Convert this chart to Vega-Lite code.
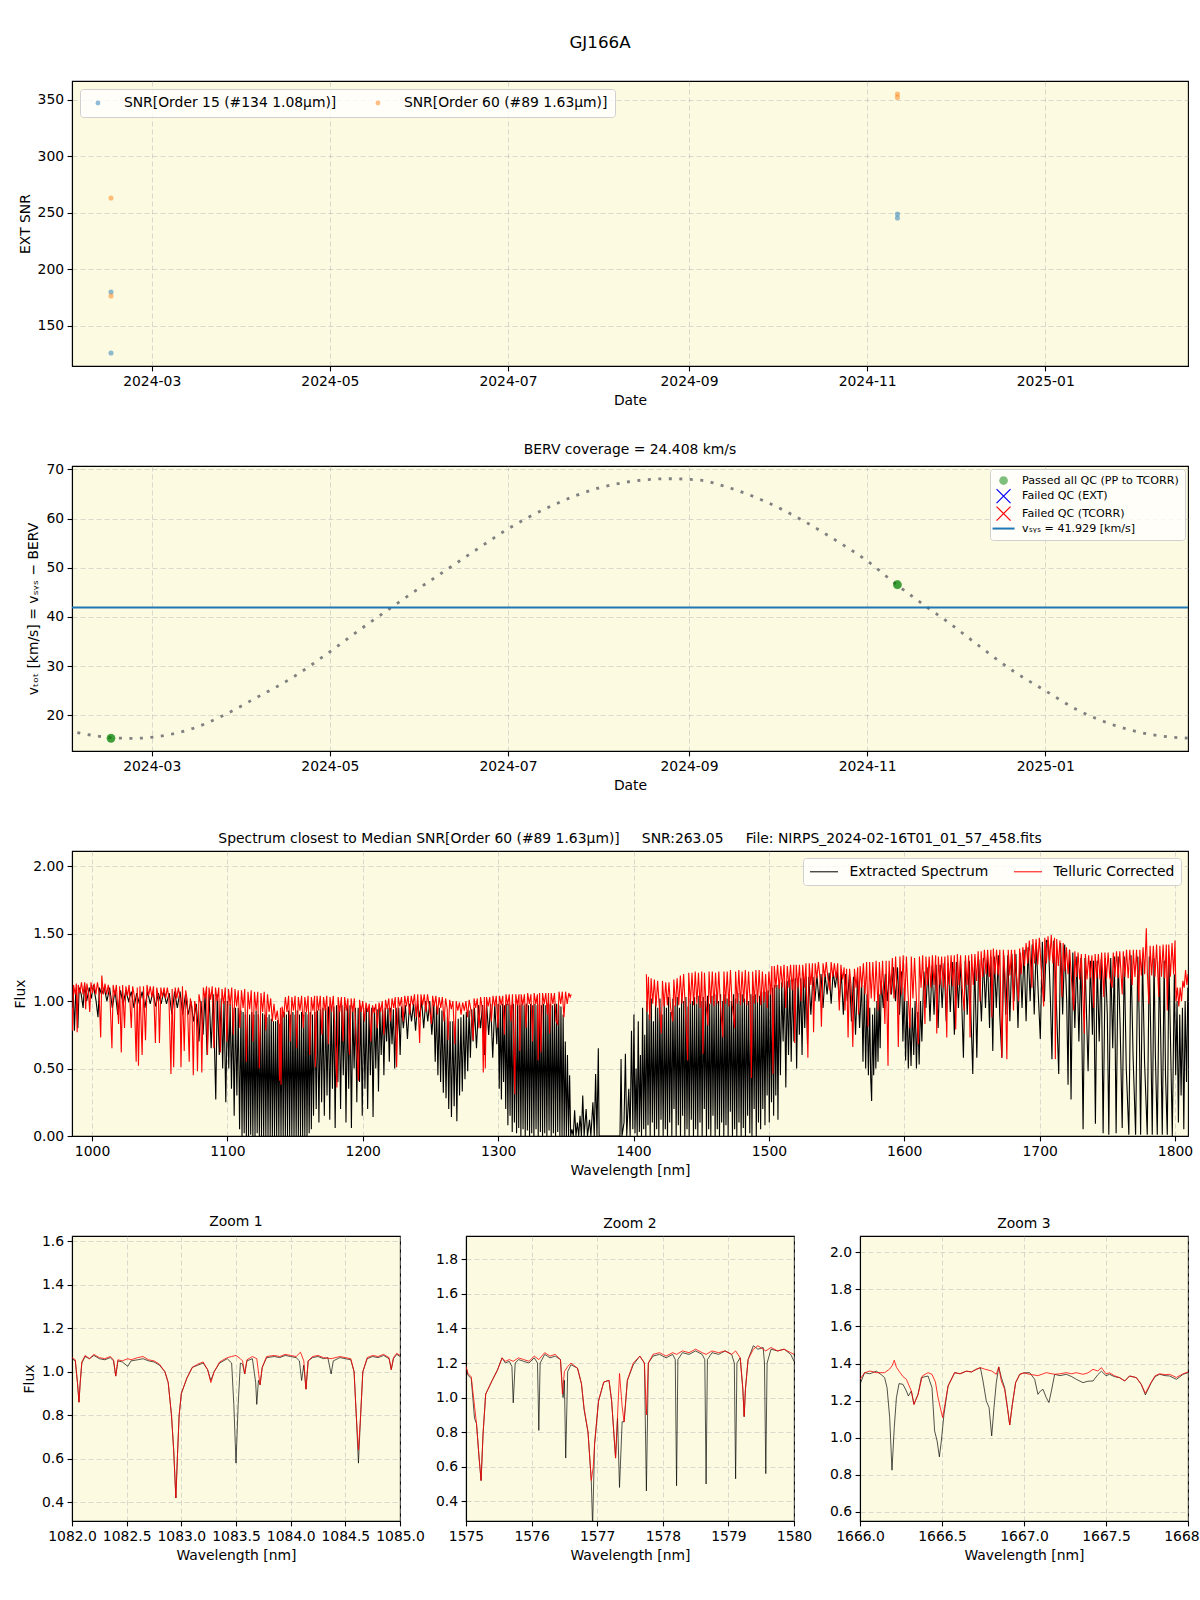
{
"$schema":"https://vega.github.io/schema/vega-lite/v6.json",
"background":"white",
"padding":{"left":13,"top":34,"right":0,"bottom":0},
"title":{"text":"GJ166A","fontSize":16.7,"fontWeight":"normal","anchor":"middle","offset":29,"dx":-13},
"bounds":"flush",
"spacing":100,
"resolve":{"scale":{"color":"independent"},"legend":{"color":"independent"}},
"config":{
"font":"DejaVu Sans",
"view":{"fill":"#fcfbe2","stroke":"#000000","strokeWidth":1.1},
"axis":{"labelFont":"DejaVu Sans","titleFont":"DejaVu Sans","labelFontSize":13.9,"titleFontSize":13.9,"titleFontWeight":"normal","labelColor":"#000","titleColor":"#000","domainColor":"#000","domainWidth":1.1,"tickColor":"#000","tickSize":4.9,"tickWidth":1.1,"labelPadding":3.5,"titlePadding":5,"grid":true,"gridColor":"#b0b0b0","gridOpacity":0.6,"gridDash":[5,3],"gridWidth":0.8,"labelFlush":false,"labelOverlap":false,"labelBound":false},
"title":{"font":"DejaVu Sans","fontSize":13.9,"fontWeight":"normal","color":"#000","offset":5.5,"anchor":"middle"},
"legend":{"labelFont":"DejaVu Sans","labelColor":"#000","labelLimit":400}
},
"datasets":{
"snr":[
{"d":"2024-02-16T01:30:00Z","o":"SNR[Order 15 (#134 1.08μm)]","v":126.1},
{"d":"2024-02-16T01:30:00Z","o":"SNR[Order 15 (#134 1.08μm)]","v":180.1},
{"d":"2024-02-16T01:30:00Z","o":"SNR[Order 60 (#89 1.63μm)]","v":263.3},
{"d":"2024-02-16T01:30:00Z","o":"SNR[Order 60 (#89 1.63μm)]","v":176.5},
{"d":"2024-11-11T09:00:00Z","o":"SNR[Order 15 (#134 1.08μm)]","v":249.1},
{"d":"2024-11-11T09:00:00Z","o":"SNR[Order 15 (#134 1.08μm)]","v":245.6},
{"d":"2024-11-11T09:00:00Z","o":"SNR[Order 60 (#89 1.63μm)]","v":355.3},
{"d":"2024-11-11T09:00:00Z","o":"SNR[Order 60 (#89 1.63μm)]","v":352.3}
],
"qc":[
{"d":"2024-02-16T01:30:00Z","v":15.3,"q":"a"},
{"d":"2024-02-16T01:30:00Z","v":15.35,"q":"a"},
{"d":"2024-11-11T09:00:00Z","v":46.5,"q":"a"},
{"d":"2024-11-11T09:00:00Z","v":46.6,"q":"a"}
],
"berv":[
{"d":"2024-02-01","v":16.9},{"d":"2024-02-10","v":15.9},{"d":"2024-02-17","v":15.4},{"d":"2024-02-24","v":15.3},{"d":"2024-03-02","v":15.6},{"d":"2024-03-14","v":17.1},{"d":"2024-03-25","v":19.8},{"d":"2024-04-05","v":23.3},{"d":"2024-04-18","v":27.6},{"d":"2024-05-01","v":32.9},{"d":"2024-05-12","v":37.7},{"d":"2024-05-22","v":41.9},{"d":"2024-06-01","v":46.0},{"d":"2024-06-11","v":50.0},{"d":"2024-06-21","v":54.0},{"d":"2024-07-01","v":57.9},{"d":"2024-07-16","v":62.6},{"d":"2024-08-01","v":66.2},{"d":"2024-08-14","v":67.7},{"d":"2024-08-25","v":68.1},{"d":"2024-09-05","v":67.8},{"d":"2024-09-14","v":66.4},{"d":"2024-09-27","v":63.5},{"d":"2024-10-10","v":59.6},{"d":"2024-10-22","v":55.3},{"d":"2024-11-01","v":51.4},{"d":"2024-11-11","v":46.6},{"d":"2024-11-21","v":42.2},{"d":"2024-11-29","v":38.8},{"d":"2024-12-10","v":33.8},{"d":"2024-12-21","v":29.0},{"d":"2025-01-01","v":25.0},{"d":"2025-01-12","v":21.1},{"d":"2025-01-25","v":17.9},{"d":"2025-02-07","v":16.0},{"d":"2025-02-20","v":15.3}
],
"ext":[
{"w":985.3,"f":0.95},{"w":986,"f":1.1},{"w":987,"f":0.78},{"w":988,"f":1.08},{"w":989.5,"f":0.8},{"w":990.5,"f":1.1},{"w":992,"f":1.05},{"w":993.4,"f":0.95},{"w":994.5,"f":1.12},{"w":996,"f":1.0},{"w":998,"f":1.1},{"w":999.5,"f":1.02},{"w":1001,"f":1.12},{"w":1003,"f":1.0},{"w":1004.4,"f":0.88},{"w":1005.5,"f":1.1},{"w":1007,"f":1.05},{"w":1009,"f":1.1},{"w":1011,"f":1.0},{"w":1013,"f":1.1},{"w":1015,"f":0.95},{"w":1017,"f":1.08},{"w":1019,"f":0.9},{"w":1021,"f":1.08},{"w":1023,"f":0.98},{"w":1025,"f":1.08},{"w":1027,"f":1.0},{"w":1029,"f":1.07},{"w":1031,"f":0.95},{"w":1033,"f":1.06},{"w":1035,"f":0.98},{"w":1037,"f":1.07},{"w":1039,"f":0.95},{"w":1041,"f":1.07},{"w":1043,"f":0.98},{"w":1045,"f":1.07},{"w":1047,"f":0.96},{"w":1049,"f":1.06},{"w":1051,"f":0.98},{"w":1053,"f":1.07},{"w":1055,"f":0.98},{"w":1057,"f":1.06},{"w":1059,"f":0.9},{"w":1061,"f":1.07},{"w":1063,"f":0.95},{"w":1065,"f":1.07},{"w":1067,"f":0.9},{"w":1069,"f":1.05},{"w":1071,"f":0.9},{"w":1073,"f":1.0},{"w":1075,"f":0.85},{"w":1077,"f":0.98},{"w":1079,"f":0.7},{"w":1080.5,"f":1.0},{"w":1082,"f":0.75},{"w":1083.5,"f":1.05},{"w":1085,"f":0.6},{"w":1086.5,"f":1.05},{"w":1088,"f":0.65},{"w":1089.5,"f":1.05},{"w":1091.4,"f":0.27},{"w":1092.5,"f":1.05},{"w":1094,"f":0.6},{"w":1095.5,"f":1.02},{"w":1096.5,"f":0.5},{"w":1097.5,"f":1.0},{"w":1098.8,"f":0.25},{"w":1100,"f":1.0},{"w":1101,"f":0.5},{"w":1102,"f":0.98},{"w":1103,"f":0.35},{"w":1104,"f":0.95},{"w":1105,"f":0.15},{"w":1106,"f":0.95},{"w":1107,"f":0.3},{"w":1108,"f":0.95},{"w":1109,"f":0.05},
{"w":1110,"f":0.93},{"w":1110.8,"f":0.0},{"w":1111.6,"f":0.92},{"w":1112.4,"f":0.02},{"w":1113.2,"f":0.9},{"w":1114,"f":0.0},{"w":1114.8,"f":0.94},{"w":1115.6,"f":0.0},{"w":1116.4,"f":0.9},{"w":1117.2,"f":0.01},{"w":1118,"f":0.92},{"w":1118.8,"f":0.0},{"w":1119.6,"f":0.9},{"w":1120.4,"f":0.0},{"w":1121.2,"f":0.93},{"w":1122,"f":0.02},{"w":1122.8,"f":0.9},{"w":1123.6,"f":0.0},{"w":1124.4,"f":0.88},{"w":1125.2,"f":0.0},{"w":1126,"f":0.91},{"w":1126.8,"f":0.0},{"w":1127.6,"f":0.9},{"w":1128.4,"f":0.0},{"w":1129.2,"f":0.88},{"w":1130,"f":0.0},{"w":1130.8,"f":0.9},{"w":1131.6,"f":0.0},{"w":1132.4,"f":0.87},{"w":1133.2,"f":0.0},{"w":1134,"f":0.85},{"w":1134.8,"f":0.0},{"w":1135.6,"f":0.85},{"w":1136.4,"f":0.0},{"w":1137.2,"f":0.86},{"w":1138,"f":0.0},{"w":1138.8,"f":0.83},{"w":1139.6,"f":0.0},{"w":1140.4,"f":0.9},{"w":1141.2,"f":0.0},{"w":1142,"f":0.92},{"w":1142.8,"f":0.0},{"w":1143.6,"f":0.9},{"w":1144.4,"f":0.0},{"w":1145.2,"f":0.93},{"w":1146,"f":0.0},{"w":1146.8,"f":0.9},{"w":1147.6,"f":0.0},{"w":1148.4,"f":0.92},{"w":1149.2,"f":0.0},{"w":1150,"f":0.9},{"w":1150.8,"f":0.0},{"w":1151.6,"f":0.93},{"w":1152.4,"f":0.0},{"w":1153.2,"f":0.9},{"w":1154,"f":0.0},{"w":1154.8,"f":0.92},{"w":1155.6,"f":0.0},{"w":1156.4,"f":0.9},{"w":1157.2,"f":0.0},{"w":1158,"f":0.92},{"w":1158.8,"f":0.0},{"w":1159.6,"f":0.9},{"w":1160.4,"f":0.02},{"w":1161.2,"f":0.92},{"w":1162,"f":0.05},{"w":1162.8,"f":0.9},
{"w":1163.6,"f":0.15},{"w":1164.6,"f":0.92},{"w":1165.6,"f":0.2},{"w":1166.6,"f":0.93},{"w":1167.6,"f":0.1},{"w":1168.6,"f":0.94},{"w":1169.6,"f":0.25},{"w":1170.6,"f":0.95},{"w":1171.6,"f":0.15},{"w":1172.6,"f":0.95},{"w":1173.6,"f":0.3},{"w":1174.6,"f":0.96},{"w":1175.6,"f":0.12},{"w":1176.6,"f":0.96},{"w":1177.6,"f":0.35},{"w":1178.6,"f":0.96},{"w":1179.6,"f":0.06},{"w":1180.6,"f":0.97},{"w":1181.6,"f":0.4},{"w":1182.6,"f":0.96},{"w":1183.6,"f":0.2},{"w":1184.6,"f":0.97},{"w":1185.6,"f":0.45},{"w":1186.6,"f":0.96},{"w":1187.6,"f":0.1},{"w":1188.6,"f":0.96},{"w":1189.6,"f":0.35},{"w":1190.6,"f":0.97},{"w":1191.6,"f":0.06},{"w":1192.6,"f":0.96},{"w":1193.6,"f":0.5},{"w":1194.6,"f":0.95},{"w":1195.6,"f":0.25},{"w":1196.6,"f":0.95},{"w":1197.6,"f":0.4},{"w":1198.6,"f":0.96},{"w":1199.6,"f":0.15},{"w":1200.6,"f":0.95},{"w":1201.6,"f":0.35},{"w":1202.6,"f":0.95},{"w":1203.6,"f":0.2},{"w":1204.6,"f":0.94},{"w":1205.6,"f":0.45},{"w":1206.6,"f":0.95},{"w":1207.6,"f":0.14},{"w":1208.6,"f":0.95},{"w":1209.6,"f":0.5},{"w":1210.6,"f":0.94},{"w":1211.6,"f":0.33},{"w":1212.6,"f":0.95},{"w":1213.6,"f":0.6},{"w":1214.6,"f":0.94},{"w":1215.6,"f":0.45},{"w":1216.6,"f":0.95},{"w":1217.6,"f":0.7},{"w":1218.6,"f":0.95},{"w":1219.6,"f":0.55},{"w":1220.6,"f":0.95},{"w":1221.6,"f":0.68},{"w":1222.6,"f":0.94},{"w":1223.6,"f":0.5},{"w":1224.6,"f":0.95},{"w":1225.6,"f":0.75},{"w":1226.6,"f":0.95},{"w":1227.6,"f":0.6},{"w":1228.6,"f":0.96},{"w":1230,"f":0.8},{"w":1231.5,"f":0.97},{"w":1233,"f":0.72},{"w":1234.5,"f":0.98},{"w":1236,"f":0.85},{"w":1237.5,"f":0.98},{"w":1239,"f":0.78},{"w":1240.5,"f":0.99},{"w":1242,"f":0.88},{"w":1243.5,"f":1.0},{"w":1245,"f":0.8},{"w":1246.5,"f":1.0},{"w":1248,"f":0.85},{"w":1249.5,"f":1.0},{"w":1251,"f":0.75},{"w":1252.5,"f":0.98},
{"w":1253.5,"f":0.55},{"w":1254.5,"f":0.97},{"w":1255.5,"f":0.45},{"w":1256.5,"f":0.95},{"w":1257.5,"f":0.4},{"w":1258.5,"f":0.93},{"w":1259.5,"f":0.32},{"w":1260.5,"f":0.9},{"w":1261.5,"f":0.28},{"w":1262.5,"f":0.88},{"w":1263.5,"f":0.2},{"w":1264.5,"f":0.85},{"w":1265.5,"f":0.14},{"w":1266.5,"f":0.85},{"w":1267.5,"f":0.22},{"w":1268.5,"f":0.85},{"w":1269.5,"f":0.11},{"w":1270.5,"f":0.87},{"w":1271.5,"f":0.3},{"w":1272.5,"f":0.88},{"w":1273.5,"f":0.33},{"w":1274.5,"f":0.9},{"w":1275.5,"f":0.42},{"w":1276.5,"f":0.92},{"w":1277.5,"f":0.48},{"w":1278.5,"f":0.93},{"w":1279.5,"f":0.58},{"w":1280.5,"f":0.94},{"w":1281.5,"f":0.7},{"w":1282.5,"f":0.95},{"w":1284,"f":0.65},{"w":1285.5,"f":0.97},{"w":1287,"f":0.8},{"w":1288.5,"f":0.97},{"w":1290,"f":0.6},{"w":1291.5,"f":0.98},{"w":1293,"f":0.75},{"w":1294.5,"f":0.98},{"w":1296,"f":0.58},{"w":1297.5,"f":0.98},{"w":1299,"f":0.68},{"w":1300,"f":0.98},
{"w":1300.8,"f":0.35},{"w":1301.6,"f":0.97},{"w":1302.4,"f":0.27},{"w":1303.2,"f":0.98},{"w":1304,"f":0.4},{"w":1304.8,"f":0.97},{"w":1305.6,"f":0.2},{"w":1306.4,"f":0.98},{"w":1307.2,"f":0.08},{"w":1308,"f":0.98},{"w":1308.8,"f":0.15},{"w":1309.6,"f":0.97},{"w":1310.4,"f":0.03},{"w":1311.2,"f":0.98},{"w":1312,"f":0.1},{"w":1312.8,"f":0.97},{"w":1313.6,"f":0.02},{"w":1314.4,"f":0.98},{"w":1315.2,"f":0.06},{"w":1316,"f":0.97},{"w":1316.8,"f":0.0},{"w":1317.6,"f":0.98},{"w":1318.4,"f":0.05},{"w":1319.2,"f":0.97},{"w":1320,"f":0.0},{"w":1320.8,"f":0.98},{"w":1321.6,"f":0.04},{"w":1322.4,"f":0.97},{"w":1323.2,"f":0.0},{"w":1324,"f":0.98},{"w":1324.8,"f":0.02},{"w":1325.6,"f":0.97},{"w":1326.4,"f":0.0},{"w":1327.2,"f":0.98},{"w":1328,"f":0.05},{"w":1328.8,"f":0.97},{"w":1329.6,"f":0.0},{"w":1330.4,"f":0.98},{"w":1331.2,"f":0.03},{"w":1332,"f":0.97},{"w":1332.8,"f":0.0},{"w":1333.6,"f":0.98},{"w":1334.4,"f":0.02},{"w":1335.2,"f":0.97},{"w":1336,"f":0.0},{"w":1336.8,"f":0.98},{"w":1337.6,"f":0.04},{"w":1338.4,"f":0.98},{"w":1339.2,"f":0.0},{"w":1340,"f":0.97},{"w":1340.8,"f":0.02},{"w":1341.6,"f":0.98},{"w":1342.4,"f":0.0},{"w":1343.2,"f":0.98},{"w":1344,"f":0.03},{"w":1344.8,"f":0.97},{"w":1345.6,"f":0.0},{"w":1346.4,"f":0.96},{"w":1347.2,"f":0.0},{"w":1348,"f":0.9},{"w":1348.8,"f":0.0},{"w":1349.6,"f":0.7},{"w":1350.4,"f":0.0},{"w":1351.2,"f":0.6},{"w":1352,"f":0.0},{"w":1352.8,"f":0.45},{"w":1353.6,"f":0.0},
{"w":1354.5,"f":0.05},{"w":1355.5,"f":0.0},{"w":1356.5,"f":0.19},{"w":1357.5,"f":0.0},{"w":1358.5,"f":0.1},{"w":1359.5,"f":0.0},{"w":1360.5,"f":0.15},{"w":1361.5,"f":0.0},{"w":1362.5,"f":0.3},{"w":1363.5,"f":0.0},{"w":1365,"f":0.2},{"w":1366,"f":0.0},{"w":1367.5,"f":0.12},{"w":1368.5,"f":0.0},{"w":1370,"f":0.25},{"w":1371,"f":0.0},{"w":1372,"f":0.46},{"w":1373,"f":0.0},{"w":1374,"f":0.65},{"w":1374.6,"f":0.0},{"w":1380,"f":0.0},{"w":1390,"f":0.0},{"w":1390.8,"f":0.57},{"w":1391.5,"f":0.0},{"w":1393,"f":0.1},{"w":1394,"f":0.61},{"w":1395,"f":0.0},{"w":1396.5,"f":0.35},{"w":1397.5,"f":0.0},{"w":1398.5,"f":0.78},{"w":1399.5,"f":0.05},
{"w":1400.3,"f":0.9},{"w":1401.1,"f":0.02},{"w":1401.9,"f":0.5},{"w":1402.7,"f":0.0},{"w":1403.5,"f":0.85},{"w":1404.3,"f":0.03},{"w":1405.1,"f":0.6},{"w":1405.9,"f":0.0},{"w":1406.7,"f":0.95},{"w":1407.5,"f":0.05},{"w":1408.3,"f":0.75},{"w":1409.1,"f":0.0},{"w":1409.9,"f":1.0},{"w":1410.7,"f":0.08},{"w":1411.5,"f":0.9},{"w":1412.3,"f":0.0},{"w":1413.1,"f":1.02},{"w":1413.9,"f":0.1},{"w":1414.7,"f":0.85},{"w":1415.5,"f":0.0},{"w":1416.3,"f":1.0},{"w":1417.1,"f":0.05},{"w":1417.9,"f":0.95},{"w":1418.7,"f":0.0},{"w":1419.5,"f":1.02},{"w":1420.3,"f":0.12},{"w":1421.1,"f":0.9},{"w":1421.9,"f":0.0},{"w":1422.7,"f":1.0},{"w":1423.5,"f":0.05},{"w":1424.3,"f":0.95},{"w":1425.1,"f":0.0},{"w":1425.9,"f":1.03},{"w":1426.7,"f":0.1},{"w":1427.5,"f":0.92},{"w":1428.3,"f":0.0},{"w":1429.1,"f":1.02},{"w":1429.9,"f":0.2},{"w":1430.7,"f":0.97},{"w":1431.5,"f":0.0},{"w":1432.3,"f":1.03},{"w":1433.1,"f":0.08},{"w":1433.9,"f":0.95},{"w":1434.7,"f":0.0},{"w":1435.5,"f":1.02},{"w":1436.3,"f":0.15},{"w":1437.1,"f":1.0},{"w":1437.9,"f":0.0},{"w":1438.7,"f":1.03},{"w":1439.5,"f":0.05},{"w":1440.3,"f":0.96},{"w":1441.1,"f":0.0},{"w":1441.9,"f":1.02},{"w":1442.7,"f":0.12},{"w":1443.5,"f":1.0},{"w":1444.3,"f":0.0},{"w":1445.1,"f":1.03},{"w":1445.9,"f":0.05},{"w":1446.7,"f":0.98},{"w":1447.5,"f":0.0},{"w":1448.3,"f":1.04},{"w":1449.1,"f":0.1},{"w":1449.9,"f":1.0},{"w":1450.7,"f":0.0},{"w":1451.5,"f":1.03},{"w":1452.3,"f":0.2},{"w":1453.1,"f":1.0},{"w":1453.9,"f":0.0},{"w":1454.7,"f":1.04},{"w":1455.5,"f":0.05},{"w":1456.3,"f":0.98},{"w":1457.1,"f":0.0},{"w":1457.9,"f":1.04},{"w":1458.7,"f":0.15},{"w":1459.5,"f":1.0},{"w":1460.3,"f":0.0},{"w":1461.1,"f":1.05},{"w":1461.9,"f":0.05},{"w":1462.7,"f":1.0},{"w":1463.5,"f":0.0},{"w":1464.3,"f":1.05},{"w":1465.1,"f":0.1},{"w":1465.9,"f":1.0},{"w":1466.7,"f":0.0},{"w":1467.5,"f":1.05},{"w":1468.3,"f":0.08},{"w":1469.1,"f":1.02},{"w":1469.9,"f":0.0},{"w":1470.7,"f":1.05},{"w":1471.5,"f":0.18},{"w":1472.3,"f":1.0},{"w":1473.1,"f":0.0},{"w":1473.9,"f":1.05},{"w":1474.7,"f":0.05},{"w":1475.5,"f":1.02},{"w":1476.3,"f":0.0},{"w":1477.1,"f":1.06},{"w":1477.9,"f":0.1},{"w":1478.7,"f":1.0},{"w":1479.5,"f":0.0},{"w":1480.3,"f":1.05},{"w":1481.1,"f":0.06},{"w":1481.9,"f":1.02},{"w":1482.7,"f":0.0},{"w":1483.5,"f":1.06},{"w":1484.3,"f":0.15},{"w":1485.1,"f":1.0},{"w":1485.9,"f":0.02},{"w":1486.7,"f":1.05},{"w":1487.5,"f":0.0},{"w":1488.3,"f":1.04},{"w":1489.1,"f":0.2},{"w":1489.9,"f":1.05},{"w":1490.7,"f":0.0},{"w":1491.5,"f":1.06},{"w":1492.3,"f":0.1},{"w":1493.1,"f":1.04},{"w":1493.9,"f":0.05},{"w":1494.7,"f":1.07},{"w":1495.5,"f":0.2},{"w":1496.3,"f":1.05},{"w":1497.1,"f":0.08},{"w":1497.9,"f":1.07},{"w":1498.7,"f":0.3},{"w":1499.5,"f":1.08},{"w":1500.3,"f":0.1},{"w":1501.1,"f":1.1},{"w":1501.9,"f":0.25},{"w":1502.7,"f":1.1},{"w":1503.5,"f":0.15},{"w":1504.3,"f":1.12},{"w":1505.1,"f":0.3},{"w":1505.9,"f":1.12},{"w":1506.7,"f":0.12},{"w":1507.5,"f":1.13},{"w":1508.5,"f":0.45},{"w":1509.5,"f":1.14},{"w":1510.5,"f":0.7},{"w":1511.5,"f":1.15},{"w":1512.5,"f":0.36},{"w":1513.5,"f":1.15},{"w":1514.5,"f":0.6},{"w":1515.5,"f":1.16},{"w":1516.5,"f":0.55},{"w":1517.5,"f":1.16},{"w":1518.5,"f":0.7},{"w":1519.5,"f":1.17},{"w":1520.5,"f":0.5},{"w":1521.5,"f":1.17},{"w":1522.5,"f":0.75},{"w":1523.5,"f":1.17},{"w":1524.5,"f":0.6},{"w":1525.5,"f":1.18},{"w":1526.5,"f":0.8},{"w":1527.5,"f":1.18},{"w":1528.5,"f":0.68},{"w":1529.5,"f":1.18},{"w":1531,"f":0.9},{"w":1532.5,"f":1.18},{"w":1534,"f":1.0},{"w":1535.5,"f":1.19},
{"w":1537,"f":1.0},{"w":1538.5,"f":1.2},{"w":1540,"f":0.95},{"w":1541.5,"f":1.2},{"w":1543,"f":1.05},{"w":1544.5,"f":1.21},{"w":1546,"f":0.98},{"w":1547.5,"f":1.22},{"w":1549,"f":1.1},{"w":1550.5,"f":1.22},{"w":1552,"f":1.0},{"w":1553.5,"f":1.21},{"w":1555,"f":0.9},{"w":1556.5,"f":1.2},{"w":1558,"f":1.0},{"w":1559.5,"f":1.2},{"w":1561,"f":0.85},{"w":1562.5,"f":1.18},{"w":1564,"f":0.75},{"w":1565.5,"f":1.18},{"w":1567,"f":0.8},{"w":1568.5,"f":1.15},
{"w":1569.5,"f":0.55},{"w":1570.5,"f":1.12},{"w":1571.5,"f":0.5},{"w":1572.5,"f":1.05},{"w":1573.5,"f":0.45},{"w":1574.5,"f":0.95},{"w":1575.2,"f":0.43},{"w":1575.9,"f":0.26},{"w":1576.6,"f":0.9},{"w":1577.4,"f":0.45},{"w":1578.2,"f":0.95},{"w":1579,"f":0.5},{"w":1579.8,"f":1.0},{"w":1580.6,"f":0.55},{"w":1581.4,"f":1.05},{"w":1582.2,"f":0.65},{"w":1583,"f":1.15},{"w":1584.5,"f":0.95},{"w":1586,"f":1.2},{"w":1587.5,"f":1.0},{"w":1589,"f":1.22},{"w":1590.5,"f":1.05},{"w":1592,"f":1.25},{"w":1593.5,"f":1.0},{"w":1595,"f":1.25},{"w":1596.5,"f":0.9},{"w":1598,"f":1.22},
{"w":1599,"f":0.7},{"w":1600,"f":1.1},{"w":1601,"f":0.56},{"w":1602,"f":1.0},{"w":1603,"f":0.5},{"w":1604,"f":0.9},{"w":1605,"f":0.52},{"w":1606,"f":0.95},{"w":1607,"f":0.6},{"w":1608,"f":1.0},{"w":1609,"f":0.5},{"w":1610,"f":0.92},{"w":1611,"f":0.53},{"w":1612,"f":1.0},{"w":1613,"f":0.7},{"w":1614.5,"f":1.22},
{"w":1616,"f":0.95},{"w":1617.5,"f":1.25},{"w":1619,"f":0.85},{"w":1620.5,"f":1.26},{"w":1622,"f":0.9},{"w":1623.5,"f":1.27},{"w":1625,"f":0.8},{"w":1626.5,"f":1.27},{"w":1628,"f":0.95},{"w":1629.5,"f":1.28},{"w":1631,"f":0.85},{"w":1632.5,"f":1.28},{"w":1634,"f":0.92},{"w":1635.5,"f":1.29},{"w":1637,"f":0.75},{"w":1638.5,"f":1.29},{"w":1640,"f":0.95},{"w":1641.5,"f":1.3},{"w":1643.7,"f":0.58},{"w":1645,"f":1.3},{"w":1646.5,"f":0.9},{"w":1648,"f":1.3},{"w":1650.6,"f":0.46},{"w":1652,"f":1.3},{"w":1653.6,"f":0.58},{"w":1655,"f":1.31},{"w":1657,"f":0.85},{"w":1658.5,"f":1.32},{"w":1660,"f":0.95},{"w":1661.5,"f":1.33},{"w":1663,"f":0.8},{"w":1664,"f":1.33},{"w":1665.4,"f":0.63},{"w":1666.5,"f":1.33},{"w":1668,"f":0.95},{"w":1669.5,"f":1.34},{"w":1670.5,"f":0.9},{"w":1672.1,"f":0.58},{"w":1673.5,"f":1.34},{"w":1675,"f":0.9},{"w":1676.5,"f":1.34},{"w":1678,"f":0.85},{"w":1679.5,"f":1.35},{"w":1681,"f":1.0},{"w":1682.5,"f":1.35},{"w":1684,"f":0.8},{"w":1685.5,"f":1.36},{"w":1687,"f":0.95},{"w":1688.5,"f":1.38},{"w":1690,"f":0.85},{"w":1691.5,"f":1.4},{"w":1693,"f":1.0},{"w":1694.5,"f":1.42},{"w":1696,"f":0.9},{"w":1697.5,"f":1.43},{"w":1699,"f":1.05},{"w":1700.5,"f":0.72},{"w":1702,"f":1.44},{"w":1703.5,"f":1.0},{"w":1705,"f":1.45},
{"w":1706.5,"f":1.44},{"w":1708,"f":1.0},{"w":1709.1,"f":0.57},{"w":1710.5,"f":1.45},{"w":1712,"f":1.1},{"w":1714.1,"f":0.46},{"w":1715.5,"f":1.43},{"w":1717,"f":0.9},{"w":1718.5,"f":1.42},{"w":1720,"f":1.0},{"w":1721,"f":0.38},{"w":1722,"f":1.38},{"w":1723.2,"f":0.27},{"w":1724.5,"f":1.36},{"w":1726,"f":0.8},{"w":1727.5,"f":1.33},{"w":1729,"f":0.7},{"w":1730.5,"f":1.32},{"w":1732.1,"f":0.05},{"w":1733.5,"f":1.32},{"w":1735.8,"f":0.48},{"w":1737.5,"f":1.3},{"w":1739,"f":0.75},{"w":1739.8,"f":1.3},{"w":1741.2,"f":0.09},{"w":1742.5,"f":1.3},{"w":1744,"f":0.7},{"w":1745.5,"f":1.31},{"w":1746.9,"f":0.02},{"w":1748.5,"f":1.32},{"w":1750,"f":0.9},{"w":1751.1,"f":0.01},{"w":1752.5,"f":1.32},{"w":1754,"f":0.65},{"w":1755.2,"f":1.33},{"w":1756.5,"f":0.02},{"w":1758,"f":1.33},{"w":1759.5,"f":0.8},{"w":1761,"f":0.06},{"w":1762.5,"f":1.33},{"w":1764,"f":0.5},{"w":1765.9,"f":0.01},{"w":1767.5,"f":1.34},{"w":1769,"f":0.6},{"w":1770.9,"f":0.01},{"w":1772.5,"f":1.33},{"w":1773.5,"f":0.9},{"w":1774.6,"f":0.01},{"w":1776,"f":1.32},{"w":1777.5,"f":0.55},{"w":1779.5,"f":0.01},{"w":1781,"f":1.33},{"w":1782,"f":0.8},{"w":1783.2,"f":0.01},{"w":1784.5,"f":1.32},{"w":1785.5,"f":0.6},{"w":1786.9,"f":0.01},{"w":1788.5,"f":1.3},{"w":1789.5,"f":0.7},{"w":1790.6,"f":0.01},{"w":1792,"f":1.3},{"w":1793,"f":0.45},{"w":1794.3,"f":0.01},{"w":1795.5,"f":1.3},{"w":1796.5,"f":0.8},{"w":1798,"f":0.0},{"w":1799.5,"f":1.2},{"w":1800.5,"f":0.45},{"w":1801.5,"f":1.0},{"w":1802.5,"f":0.1},{"w":1803.5,"f":0.9},{"w":1804.5,"f":0.3},{"w":1805.5,"f":0.95},{"w":1806.5,"f":0.05},{"w":1807.5,"f":1.0},{"w":1808.5,"f":0.4},{"w":1809.5,"f":1.1},{"w":1810,"f":0.9}
],
"t1":[
{"w":985.3,"f":0.95},{"w":985.6,"f":0.78},{"w":986.3,"f":1.12},{"w":987.6,"f":1.05},{"w":988.4,"f":1.13},{"w":989,"f":0.77},{"w":989.8,"f":1.12},{"w":991,"f":1.06},{"w":992.2,"f":1.14},{"w":993.4,"f":1.05},{"w":994.6,"f":1.14},{"w":995.3,"f":0.94},{"w":996.2,"f":1.13},{"w":997.4,"f":1.06},{"w":998.3,"f":0.92},{"w":999.2,"f":1.14},{"w":1000.4,"f":1.06},{"w":1001.6,"f":1.13},{"w":1002.8,"f":1.05},{"w":1004,"f":1.14},{"w":1005.2,"f":1.06},{"w":1006.4,"f":0.73},{"w":1007.2,"f":1.19},{"w":1008.4,"f":1.05},{"w":1009.6,"f":1.13},{"w":1010.8,"f":1.05},{"w":1012,"f":1.12},{"w":1013.2,"f":1.04},{"w":1014.7,"f":0.65},{"w":1015.6,"f":1.12},{"w":1016.8,"f":1.04},{"w":1018,"f":1.12},{"w":1019.6,"f":0.83},{"w":1020.4,"f":1.11},{"w":1021.6,"f":0.62},{"w":1022.6,"f":1.12},{"w":1024,"f":0.8},{"w":1025,"f":1.11},{"w":1026.2,"f":1.04},{"w":1027.4,"f":1.12},{"w":1029,"f":0.8},{"w":1030,"f":1.11},{"w":1031.2,"f":1.04},{"w":1032.6,"f":0.55},{"w":1033.4,"f":1.1},{"w":1034.3,"f":0.52},{"w":1035.4,"f":1.11},{"w":1037,"f":0.6},{"w":1038,"f":1.11},{"w":1039.5,"f":0.71},{"w":1040.6,"f":1.12},{"w":1041.8,"f":1.04},{"w":1043,"f":1.11},{"w":1044.2,"f":1.03},{"w":1045.4,"f":1.11},{"w":1046.8,"f":0.69},{"w":1047.8,"f":1.1},{"w":1049,"f":1.03},{"w":1049.8,"f":0.69},{"w":1050.8,"f":1.1},{"w":1052,"f":1.03},{"w":1053.2,"f":1.1},{"w":1054.4,"f":1.02},{"w":1055.6,"f":1.1},{"w":1056.8,"f":1.02},{"w":1058.3,"f":0.46},{"w":1059.2,"f":1.09},{"w":1060.3,"f":0.51},{"w":1061.4,"f":1.1},{"w":1062.6,"f":1.02},{"w":1063.8,"f":1.1},{"w":1065,"f":1.02},{"w":1065.7,"f":0.51},{"w":1066.8,"f":1.11},{"w":1068.1,"f":0.63},{"w":1069.2,"f":1.08},{"w":1070.4,"f":1.0},{"w":1071.8,"f":0.55},{"w":1072.6,"f":1.02},{"w":1073.8,"f":0.96},{"w":1074.8,"f":0.45},{"w":1075.8,"f":1.0},{"w":1077,"f":0.94},{"w":1077.9,"f":0.48},{"w":1079,"f":1.05},{"w":1080.2,"f":0.98},{"w":1081.1,"f":0.47},{"w":1082.2,"f":1.1},{"w":1083.4,"f":1.02},{"w":1084.6,"f":1.11},{"w":1085.3,"f":0.6},{"w":1086.4,"f":1.1},{"w":1087.6,"f":1.01},{"w":1088.8,"f":1.11},{"w":1090,"f":0.65},{"w":1091.2,"f":1.1},{"w":1092.4,"f":1.0},{"w":1093.6,"f":1.1},{"w":1094.8,"f":0.62},{"w":1096,"f":1.09},{"w":1097.2,"f":0.98},{"w":1098.4,"f":1.1},{"w":1099.6,"f":0.7},{"w":1100.8,"f":1.09},{"w":1102,"f":0.97},{"w":1103.2,"f":1.1},{"w":1104.4,"f":0.75},{"w":1105.6,"f":1.09},{"w":1106.8,"f":0.96},{"w":1108,"f":1.08},{"w":1109.2,"f":0.8},{"w":1110.4,"f":1.08},{"w":1111.6,"f":0.95},{"w":1112.8,"f":1.09},{"w":1114,"f":0.55},{"w":1115.2,"f":1.07},{"w":1116.4,"f":0.94},{"w":1117.6,"f":1.08},{"w":1118.8,"f":0.7},{"w":1120,"f":1.07},{"w":1121.2,"f":0.93},{"w":1122.4,"f":1.07},{"w":1123.6,"f":0.5},{"w":1124.8,"f":1.06},{"w":1126,"f":0.92},{"w":1127.2,"f":1.07},{"w":1128.4,"f":0.78},{"w":1129.6,"f":1.05},{"w":1130.8,"f":0.92},{"w":1132,"f":1.02},{"w":1133.2,"f":0.85},{"w":1134.4,"f":0.98},{"w":1135.6,"f":0.86},{"w":1136.8,"f":0.93},{"w":1138,"f":0.82},{"w":1138.5,"f":0.41},{"w":1139.2,"f":0.95},{"w":1139.6,"f":0.38},{"w":1140.4,"f":0.96},{"w":1141.6,"f":0.88},{"w":1142.8,"f":1.03},{"w":1144,"f":0.92},{"w":1145.2,"f":1.04},{"w":1146.4,"f":0.7},{"w":1147.6,"f":1.03},{"w":1148.8,"f":0.93},{"w":1150,"f":1.04},{"w":1151.2,"f":0.65},{"w":1152.4,"f":1.03},{"w":1153.6,"f":0.93},{"w":1154.8,"f":1.04},{"w":1156,"f":0.8},{"w":1157.2,"f":1.03},{"w":1158.4,"f":0.92},{"w":1159.6,"f":1.04},{"w":1160.8,"f":0.6},{"w":1162,"f":1.03},{"w":1163.2,"f":0.93},{"w":1164.4,"f":1.04},{"w":1165,"f":0.51},{"w":1166.2,"f":1.04},{"w":1167.4,"f":0.93},{"w":1168.6,"f":1.04},{"w":1169.8,"f":0.75},{"w":1171,"f":1.03},{"w":1172.2,"f":0.93},{"w":1173.4,"f":1.04},{"w":1174.6,"f":0.68},{"w":1175.8,"f":1.03},{"w":1177,"f":0.92},{"w":1178.2,"f":1.04},{"w":1179.4,"f":0.8},{"w":1180.9,"f":0.36},{"w":1181.8,"f":1.03},{"w":1183,"f":0.92},{"w":1184.2,"f":1.03},{"w":1185.4,"f":0.7},{"w":1186.6,"f":1.03},{"w":1187.8,"f":0.93},{"w":1189,"f":1.02},{"w":1190.2,"f":0.6},{"w":1191.4,"f":1.02},{"w":1192.6,"f":0.92},{"w":1193.8,"f":1.02},{"w":1195,"f":0.75},{"w":1196.8,"f":0.41},{"w":1197.6,"f":1.01},{"w":1198.8,"f":0.92},{"w":1200,"f":1.0},{"w":1201.2,"f":0.85},{"w":1202.4,"f":0.99},{"w":1203.6,"f":0.92},{"w":1204.8,"f":0.98},{"w":1206,"f":0.7},{"w":1207.2,"f":0.97},{"w":1208.4,"f":0.91},{"w":1209.6,"f":0.98},{"w":1210.8,"f":0.8},{"w":1212,"f":0.99},{"w":1213.2,"f":0.92},{"w":1214.4,"f":1.0},{"w":1215.6,"f":0.75},{"w":1216.8,"f":1.01},{"w":1218,"f":0.94},{"w":1219.2,"f":1.02},{"w":1220.4,"f":0.85},{"w":1221.6,"f":1.02},{"w":1222.8,"f":0.95},{"w":1224,"f":1.03},{"w":1225,"f":0.51},{"w":1226.2,"f":1.03},{"w":1227.4,"f":0.96},{"w":1228.6,"f":1.03},{"w":1229.8,"f":0.85},{"w":1231,"f":1.04},{"w":1232.2,"f":0.96},{"w":1233.4,"f":1.04},{"w":1234.6,"f":0.9},{"w":1235.8,"f":1.04},{"w":1237,"f":0.97},{"w":1238.2,"f":1.05},{"w":1239.4,"f":0.88},{"w":1240.6,"f":1.05},{"w":1242,"f":0.69},{"w":1243,"f":1.05},{"w":1244.2,"f":0.97},{"w":1245.4,"f":1.05},{"w":1246.6,"f":0.92},{"w":1247.8,"f":1.05},{"w":1249,"f":0.97},{"w":1250.7,"f":0.83},{"w":1251.6,"f":1.04},{"w":1252.8,"f":0.96},{"w":1254,"f":1.04},{"w":1255.2,"f":0.9},{"w":1256.4,"f":1.03},{"w":1257.6,"f":0.95},{"w":1258.8,"f":1.03},{"w":1260,"f":0.85},{"w":1261.2,"f":1.02},{"w":1262.4,"f":0.94},{"w":1263,"f":0.71},{"w":1264.2,"f":1.01},{"w":1265.4,"f":0.94},{"w":1266.6,"f":1.0},{"w":1268,"f":0.68},{"w":1269,"f":1.0},{"w":1270.2,"f":0.93},{"w":1271.4,"f":0.99},{"w":1272.6,"f":0.9},{"w":1273.8,"f":0.99},{"w":1275,"f":0.93},{"w":1276.2,"f":1.0},{"w":1277.4,"f":0.88},{"w":1278.6,"f":1.01},{"w":1279.8,"f":0.94},{"w":1281.5,"f":0.71},{"w":1282.2,"f":1.02},{"w":1283.4,"f":0.95},{"w":1284.6,"f":1.02},{"w":1285.8,"f":0.8},{"w":1287,"f":1.03},{"w":1288.2,"f":0.95},{"w":1289,"f":0.47},{"w":1289.8,"f":1.03},{"w":1290.5,"f":0.5},{"w":1291.4,"f":1.03},{"w":1292.6,"f":0.96},{"w":1293.8,"f":1.03},{"w":1295,"f":0.85},{"w":1296.2,"f":1.04},{"w":1297.4,"f":0.96},{"w":1298.6,"f":1.04},{"w":1299.8,"f":0.8},{"w":1301,"f":1.04},{"w":1302.2,"f":0.97},{"w":1303.4,"f":1.04},{"w":1304.6,"f":0.75},{"w":1305.8,"f":1.05},{"w":1307,"f":0.97},{"w":1308.2,"f":1.05},{"w":1309.4,"f":0.85},{"w":1310.6,"f":1.05},{"w":1312.3,"f":0.31},{"w":1313,"f":1.05},{"w":1314.2,"f":0.97},{"w":1315.4,"f":1.05},{"w":1316,"f":0.63},{"w":1317,"f":1.05},{"w":1318.2,"f":0.97},{"w":1319.4,"f":1.05},{"w":1320.6,"f":0.8},{"w":1321.8,"f":1.06},{"w":1323,"f":0.98},{"w":1324.2,"f":1.05},{"w":1325.4,"f":0.7},{"w":1326.6,"f":1.06},{"w":1327.8,"f":0.98},{"w":1329,"f":1.05},{"w":1329.5,"f":0.56},{"w":1330.6,"f":1.06},{"w":1331.6,"f":0.62},{"w":1332.8,"f":1.06},{"w":1334,"f":0.98},{"w":1335.2,"f":1.06},{"w":1336.4,"f":0.9},{"w":1337.2,"f":1.06},{"w":1338,"f":0.76},{"w":1339.2,"f":1.06},{"w":1340.4,"f":0.98},{"w":1341.6,"f":1.06},{"w":1342.8,"f":0.85},{"w":1344,"f":0.83},{"w":1345,"f":1.07},{"w":1346.2,"f":0.98},{"w":1347.4,"f":1.07},{"w":1348.6,"f":0.88},{"w":1349.8,"f":1.07},{"w":1351,"f":0.98},{"w":1352.2,"f":1.06},{"w":1353.2,"f":1.03},{"w":1354,"f":1.05}
],
"t2":[
{"w":1409.5,"f":1.2},{"w":1410,"f":0.92},{"w":1411,"f":1.18},{"w":1412,"f":0.86},{"w":1413,"f":1.17},{"w":1414.2,"f":0.98},{"w":1415.4,"f":1.16},{"w":1416.6,"f":0.96},{"w":1417.8,"f":1.15},{"w":1419,"f":0.97},{"w":1420.5,"f":0.76},{"w":1421.4,"f":1.15},{"w":1422.6,"f":0.96},{"w":1423.8,"f":1.14},{"w":1425,"f":0.97},{"w":1426.2,"f":1.14},{"w":1427.4,"f":0.95},{"w":1429,"f":0.85},{"w":1429.8,"f":1.16},{"w":1431,"f":0.96},{"w":1432.2,"f":1.17},{"w":1433.4,"f":0.97},{"w":1434.6,"f":1.19},{"w":1435.8,"f":0.98},{"w":1437,"f":1.2},{"w":1438.2,"f":0.96},{"w":1440,"f":0.56},{"w":1440.8,"f":1.21},{"w":1442,"f":0.98},{"w":1443.2,"f":1.21},{"w":1444.4,"f":0.97},{"w":1445.6,"f":1.22},{"w":1446.8,"f":0.98},{"w":1448,"f":1.21},{"w":1449.2,"f":0.95},{"w":1450.4,"f":1.22},{"w":1451.3,"f":0.61},{"w":1452.4,"f":1.21},{"w":1453.6,"f":0.97},{"w":1455,"f":0.82},{"w":1455.8,"f":1.22},{"w":1457,"f":0.98},{"w":1458.2,"f":1.22},{"w":1459.4,"f":0.96},{"w":1460.6,"f":1.21},{"w":1461.8,"f":0.98},{"w":1463,"f":1.22},{"w":1464.2,"f":0.97},{"w":1466,"f":0.73},{"w":1466.8,"f":1.22},{"w":1468,"f":0.98},{"w":1469.2,"f":1.22},{"w":1470.4,"f":0.96},{"w":1471.6,"f":1.23},{"w":1472.8,"f":0.98},{"w":1474.7,"f":0.8},{"w":1475.4,"f":1.22},{"w":1476.6,"f":0.98},{"w":1477.8,"f":1.23},{"w":1479,"f":0.97},{"w":1480.2,"f":1.22},{"w":1481.4,"f":0.99},{"w":1482.6,"f":1.23},{"w":1483.8,"f":0.97},{"w":1485,"f":1.22},{"w":1486.2,"f":0.98},{"w":1487,"f":0.43},{"w":1488,"f":1.22},{"w":1489.2,"f":0.98},{"w":1490.4,"f":1.23},{"w":1491.6,"f":0.99},{"w":1492.8,"f":1.23},{"w":1494,"f":0.97},{"w":1495.2,"f":1.22},{"w":1496.4,"f":0.99},{"w":1497.6,"f":1.2},{"w":1498.8,"f":0.95},{"w":1500,"f":1.22},{"w":1501.2,"f":1.05},{"w":1502.2,"f":1.26},{"w":1503,"f":0.46},{"w":1504,"f":1.26},{"w":1505.2,"f":1.1},{"w":1506.4,"f":1.27},{"w":1507.6,"f":1.09},{"w":1508.8,"f":1.26},{"w":1510,"f":1.1},{"w":1511.2,"f":1.27},{"w":1512.4,"f":0.95},{"w":1513.6,"f":1.26},{"w":1514.8,"f":1.1},{"w":1516,"f":1.27},{"w":1517.2,"f":1.08},{"w":1518.4,"f":1.27},{"w":1519,"f":0.69},{"w":1520.2,"f":1.27},{"w":1521.4,"f":1.1},{"w":1522.6,"f":1.27},{"w":1523.8,"f":1.0},{"w":1525,"f":1.27},{"w":1526.2,"f":1.1},{"w":1527.4,"f":1.28},{"w":1528.8,"f":0.58},{"w":1529.8,"f":1.28},{"w":1531,"f":1.12},{"w":1532.2,"f":1.28},{"w":1533,"f":0.77},{"w":1534.2,"f":1.28},{"w":1535.4,"f":1.17},{"w":1536.6,"f":1.29},{"w":1537.8,"f":1.17},{"w":1538.8,"f":0.81},{"w":1540,"f":1.28},{"w":1541.2,"f":1.18},{"w":1542.4,"f":1.29},{"w":1543.6,"f":1.17},{"w":1545,"f":1.08},{"w":1546,"f":1.29},{"w":1547.2,"f":1.18},{"w":1548.4,"f":1.28},{"w":1549.6,"f":1.17},{"w":1550.8,"f":1.28},{"w":1552,"f":0.93},{"w":1553.2,"f":1.27},{"w":1554.4,"f":1.16},{"w":1555.6,"f":1.25},{"w":1556.2,"f":0.93},{"w":1557.4,"f":1.24},{"w":1558.5,"f":0.73},{"w":1559.6,"f":1.24},{"w":1560.8,"f":1.1},{"w":1562,"f":0.66},{"w":1563.2,"f":1.24},{"w":1564.4,"f":1.1},{"w":1565.6,"f":1.25},{"w":1566.2,"f":0.9},{"w":1567.4,"f":1.26},{"w":1568.6,"f":1.1},{"w":1569.8,"f":1.28},{"w":1571,"f":1.05},{"w":1572.2,"f":1.29},{"w":1573.3,"f":0.81},{"w":1574.4,"f":1.29},{"w":1575.6,"f":1.02},{"w":1576.8,"f":1.29},{"w":1578,"f":1.0},{"w":1579.2,"f":1.3},{"w":1580.7,"f":0.93},{"w":1581.6,"f":1.29},{"w":1582.8,"f":1.05},{"w":1584,"f":1.3},{"w":1585.7,"f":0.83},{"w":1586.6,"f":1.3},{"w":1588,"f":0.52},{"w":1588.8,"f":1.3},{"w":1590,"f":1.05},{"w":1591.2,"f":1.32},{"w":1592.4,"f":1.02},{"w":1593.6,"f":1.33},{"w":1594.8,"f":1.05},{"w":1595.6,"f":0.66},{"w":1596.8,"f":1.33},{"w":1598,"f":1.05},{"w":1599.2,"f":1.34},{"w":1600.4,"f":1.0},{"w":1601.6,"f":1.33},{"w":1602.8,"f":1.05},{"w":1604.2,"f":0.8},{"w":1605.2,"f":1.33},{"w":1606.4,"f":1.02},{"w":1607.6,"f":1.32},{"w":1608.8,"f":1.05},{"w":1610.4,"f":0.68},{"w":1611.2,"f":1.33},{"w":1612.4,"f":1.1},{"w":1613.6,"f":1.34},{"w":1615.3,"f":0.83},{"w":1616,"f":1.33},{"w":1617.2,"f":1.12},{"w":1618.4,"f":1.33},{"w":1619.6,"f":1.1},{"w":1620.8,"f":1.34},{"w":1622,"f":1.12},{"w":1623.2,"f":1.34},{"w":1624,"f":0.76},{"w":1625.2,"f":1.33},{"w":1626.4,"f":1.12},{"w":1627.6,"f":1.33},{"w":1628.8,"f":1.1},{"w":1630,"f":1.33},{"w":1631.4,"f":0.73},{"w":1632.2,"f":1.34},{"w":1633.4,"f":1.12},{"w":1634.6,"f":1.34},{"w":1635.8,"f":1.11},{"w":1637,"f":1.34},{"w":1638,"f":0.79},{"w":1639.2,"f":1.35},{"w":1640.4,"f":1.12},{"w":1641.6,"f":1.34},{"w":1642.8,"f":1.1},{"w":1644.2,"f":0.93},{"w":1645.2,"f":1.34},{"w":1646.4,"f":1.12},{"w":1647.6,"f":1.34},{"w":1648.6,"f":0.73},{"w":1649.8,"f":1.35},{"w":1651,"f":1.12},{"w":1652.2,"f":1.35},{"w":1653.4,"f":1.15},{"w":1654.6,"f":1.37},{"w":1656,"f":1.0},{"w":1656.8,"f":1.37},{"w":1658,"f":1.18},{"w":1659.2,"f":1.38},{"w":1660.4,"f":1.2},{"w":1661.6,"f":1.38},{"w":1662.8,"f":1.18},{"w":1664,"f":1.38},{"w":1664.7,"f":0.88},{"w":1665.8,"f":1.39},{"w":1667,"f":1.2},{"w":1668.2,"f":1.38},{"w":1669.4,"f":1.19},{"w":1670.6,"f":1.38},{"w":1672.1,"f":0.58},{"w":1673.2,"f":1.38},{"w":1674.4,"f":1.2},{"w":1675.8,"f":0.57},{"w":1676.8,"f":1.38},{"w":1678,"f":1.19},{"w":1679.2,"f":1.38},{"w":1680.7,"f":0.93},{"w":1681.6,"f":1.38},{"w":1682.8,"f":1.2},{"w":1684.4,"f":1.0},{"w":1685.2,"f":1.39},{"w":1686.4,"f":1.2},{"w":1687.6,"f":1.4},{"w":1688.8,"f":1.26},{"w":1690,"f":1.43},{"w":1691.2,"f":1.28},{"w":1692.4,"f":1.45},{"w":1694.3,"f":1.1},{"w":1695,"f":1.46},{"w":1696.2,"f":1.28},{"w":1697.4,"f":1.46},{"w":1698.6,"f":1.27},{"w":1699.8,"f":1.47},{"w":1701,"f":1.27},{"w":1703,"f":0.96},{"w":1703.8,"f":1.47},{"w":1705,"f":1.28},{"w":1706.2,"f":1.48},{"w":1707.4,"f":1.3},{"w":1708.6,"f":1.49},{"w":1709.8,"f":1.28},{"w":1711,"f":1.47},{"w":1711.6,"f":0.57},{"w":1712.6,"f":1.46},{"w":1713.8,"f":1.26},{"w":1715,"f":1.45},{"w":1716.5,"f":1.03},{"w":1717.4,"f":1.43},{"w":1718.6,"f":1.22},{"w":1719.8,"f":1.4},{"w":1721,"f":1.2},{"w":1722.2,"f":1.38},{"w":1723.4,"f":1.18},{"w":1725.2,"f":0.93},{"w":1726,"f":1.37},{"w":1727.2,"f":1.18},{"w":1728.4,"f":1.36},{"w":1729.6,"f":1.16},{"w":1730.8,"f":1.35},{"w":1733,"f":0.76},{"w":1733.8,"f":1.35},{"w":1735,"f":1.16},{"w":1736.2,"f":1.34},{"w":1737.4,"f":1.17},{"w":1738.6,"f":1.34},{"w":1740,"f":0.95},{"w":1741,"f":1.35},{"w":1742.2,"f":1.17},{"w":1743.4,"f":1.35},{"w":1744.6,"f":1.16},{"w":1745.8,"f":1.36},{"w":1747.4,"f":1.03},{"w":1748.2,"f":1.36},{"w":1749.4,"f":1.17},{"w":1750.6,"f":1.36},{"w":1751.8,"f":1.18},{"w":1753.6,"f":1.1},{"w":1754.4,"f":1.36},{"w":1755.6,"f":1.18},{"w":1756.8,"f":1.37},{"w":1758,"f":1.17},{"w":1759.2,"f":1.37},{"w":1761,"f":1.05},{"w":1761.8,"f":1.37},{"w":1763,"f":1.18},{"w":1764.2,"f":1.38},{"w":1765.4,"f":1.17},{"w":1766.6,"f":1.38},{"w":1768.4,"f":1.12},{"w":1769.2,"f":1.38},{"w":1770.4,"f":1.18},{"w":1771.6,"f":1.38},{"w":1773.3,"f":1.0},{"w":1774,"f":1.38},{"w":1775.2,"f":1.19},{"w":1776.4,"f":1.4},{"w":1777.6,"f":1.2},{"w":1778.8,"f":1.54},{"w":1779.6,"f":1.2},{"w":1780.7,"f":0.98},{"w":1781.6,"f":1.41},{"w":1782.8,"f":1.19},{"w":1784,"f":1.41},{"w":1785.2,"f":1.18},{"w":1786.4,"f":1.42},{"w":1788,"f":1.03},{"w":1788.8,"f":1.41},{"w":1790,"f":1.18},{"w":1791.2,"f":1.42},{"w":1792.4,"f":1.17},{"w":1793.6,"f":1.42},{"w":1794.3,"f":0.93},{"w":1795.4,"f":1.42},{"w":1796.6,"f":1.18},{"w":1797.8,"f":1.43},{"w":1799,"f":1.2},{"w":1800,"f":1.45},{"w":1800.8,"f":1.0},{"w":1801.8,"f":1.1},{"w":1802.8,"f":0.96},{"w":1803.8,"f":1.1},{"w":1804.8,"f":1.0},{"w":1805.8,"f":1.15},{"w":1806.8,"f":1.1},{"w":1807.8,"f":1.23},{"w":1808.8,"f":1.12},{"w":1809.6,"f":1.2}
],
"z1e":[
{"w":1082.0,"f":1.06},{"w":1082.03,"f":1.05},{"w":1082.05,"f":0.95},{"w":1082.064,"f":0.86},{"w":1082.075,"f":0.95},{"w":1082.09,"f":1.04},{"w":1082.12,"f":1.07},{"w":1082.16,"f":1.06},{"w":1082.2,"f":1.075},{"w":1082.25,"f":1.06},{"w":1082.3,"f":1.055},{"w":1082.35,"f":1.065},{"w":1082.38,"f":1.05},{"w":1082.4,"f":0.98},{"w":1082.42,"f":1.05},{"w":1082.46,"f":1.045},{"w":1082.51,"f":1.025},{"w":1082.54,"f":1.05},{"w":1082.6,"f":1.055},{"w":1082.65,"f":1.06},{"w":1082.7,"f":1.05},{"w":1082.75,"f":1.045},{"w":1082.8,"f":1.03},{"w":1082.85,"f":1.0},{"w":1082.88,"f":0.95},{"w":1082.91,"f":0.8},{"w":1082.93,"f":0.64},{"w":1082.95,"f":0.42},{"w":1082.965,"f":0.62},{"w":1082.98,"f":0.8},{"w":1083.0,"f":0.9},{"w":1083.05,"f":0.97},{"w":1083.1,"f":1.02},{"w":1083.15,"f":1.03},{"w":1083.2,"f":1.04},{"w":1083.24,"f":1.01},{"w":1083.27,"f":0.96},{"w":1083.3,"f":1.0},{"w":1083.35,"f":1.04},{"w":1083.42,"f":1.06},{"w":1083.46,"f":1.04},{"w":1083.48,"f":0.85},{"w":1083.5,"f":0.58},{"w":1083.52,"f":0.85},{"w":1083.54,"f":1.04},{"w":1083.56,"f":1.035},{"w":1083.58,"f":0.99},{"w":1083.6,"f":1.05},{"w":1083.65,"f":1.06},{"w":1083.68,"f":0.95},{"w":1083.69,"f":0.85},{"w":1083.705,"f":0.96},{"w":1083.72,"f":0.94},{"w":1083.74,"f":1.02},{"w":1083.78,"f":1.065},{"w":1083.85,"f":1.07},{"w":1083.9,"f":1.065},{"w":1083.95,"f":1.075},{"w":1084.0,"f":1.07},{"w":1084.05,"f":1.065},{"w":1084.08,"f":1.05},{"w":1084.1,"f":0.96},{"w":1084.12,"f":1.03},{"w":1084.14,"f":0.92},{"w":1084.16,"f":1.05},{"w":1084.2,"f":1.065},{"w":1084.25,"f":1.07},{"w":1084.3,"f":1.06},{"w":1084.34,"f":1.065},{"w":1084.37,"f":0.99},{"w":1084.39,"f":1.05},{"w":1084.45,"f":1.065},{"w":1084.5,"f":1.06},{"w":1084.55,"f":1.055},{"w":1084.58,"f":1.0},{"w":1084.6,"f":0.8},{"w":1084.62,"f":0.58},{"w":1084.64,"f":0.8},{"w":1084.66,"f":1.0},{"w":1084.7,"f":1.06},{"w":1084.75,"f":1.07},{"w":1084.8,"f":1.065},{"w":1084.85,"f":1.075},{"w":1084.9,"f":1.06},{"w":1084.92,"f":1.01},{"w":1084.94,"f":1.06},{"w":1084.97,"f":1.08},{"w":1085.0,"f":1.07}
],
"z1t":[
{"w":1082.0,"f":1.065},{"w":1082.03,"f":1.055},{"w":1082.05,"f":0.95},{"w":1082.064,"f":0.86},{"w":1082.075,"f":0.95},{"w":1082.09,"f":1.045},{"w":1082.12,"f":1.075},{"w":1082.16,"f":1.06},{"w":1082.2,"f":1.08},{"w":1082.25,"f":1.065},{"w":1082.3,"f":1.06},{"w":1082.35,"f":1.07},{"w":1082.38,"f":1.055},{"w":1082.4,"f":0.98},{"w":1082.42,"f":1.055},{"w":1082.46,"f":1.05},{"w":1082.51,"f":1.06},{"w":1082.54,"f":1.055},{"w":1082.6,"f":1.065},{"w":1082.65,"f":1.07},{"w":1082.7,"f":1.055},{"w":1082.75,"f":1.05},{"w":1082.8,"f":1.035},{"w":1082.85,"f":1.0},{"w":1082.88,"f":0.95},{"w":1082.91,"f":0.8},{"w":1082.93,"f":0.64},{"w":1082.95,"f":0.42},{"w":1082.965,"f":0.62},{"w":1082.98,"f":0.8},{"w":1083.0,"f":0.9},{"w":1083.05,"f":0.97},{"w":1083.1,"f":1.02},{"w":1083.15,"f":1.035},{"w":1083.2,"f":1.045},{"w":1083.24,"f":1.01},{"w":1083.27,"f":0.95},{"w":1083.3,"f":1.0},{"w":1083.35,"f":1.045},{"w":1083.42,"f":1.065},{"w":1083.46,"f":1.07},{"w":1083.5,"f":1.075},{"w":1083.54,"f":1.06},{"w":1083.56,"f":1.05},{"w":1083.58,"f":0.99},{"w":1083.6,"f":1.055},{"w":1083.65,"f":1.07},{"w":1083.69,"f":1.06},{"w":1083.72,"f":0.94},{"w":1083.74,"f":1.02},{"w":1083.78,"f":1.07},{"w":1083.85,"f":1.075},{"w":1083.9,"f":1.07},{"w":1083.95,"f":1.08},{"w":1084.0,"f":1.075},{"w":1084.05,"f":1.07},{"w":1084.09,"f":1.09},{"w":1084.12,"f":1.05},{"w":1084.14,"f":0.92},{"w":1084.16,"f":1.05},{"w":1084.2,"f":1.07},{"w":1084.25,"f":1.075},{"w":1084.3,"f":1.065},{"w":1084.37,"f":1.06},{"w":1084.45,"f":1.07},{"w":1084.5,"f":1.065},{"w":1084.55,"f":1.06},{"w":1084.58,"f":1.0},{"w":1084.6,"f":0.8},{"w":1084.62,"f":0.64},{"w":1084.64,"f":0.8},{"w":1084.66,"f":1.0},{"w":1084.7,"f":1.065},{"w":1084.75,"f":1.075},{"w":1084.8,"f":1.07},{"w":1084.85,"f":1.08},{"w":1084.9,"f":1.065},{"w":1084.92,"f":1.01},{"w":1084.94,"f":1.065},{"w":1084.97,"f":1.085},{"w":1085.0,"f":1.075}
],
"z2e":[
{"w":1575,"f":1.18},{"w":1575.03,"f":1.13},{"w":1575.08,"f":1.11},{"w":1575.13,"f":0.88},{"w":1575.16,"f":0.85},{"w":1575.2,"f":0.65},{"w":1575.23,"f":0.52},{"w":1575.26,"f":0.79},{"w":1575.3,"f":1.02},{"w":1575.4,"f":1.1},{"w":1575.48,"f":1.16},{"w":1575.55,"f":1.23},{"w":1575.6,"f":1.2},{"w":1575.66,"f":1.21},{"w":1575.7,"f":1.18},{"w":1575.72,"f":0.97},{"w":1575.75,"f":1.2},{"w":1575.8,"f":1.22},{"w":1575.88,"f":1.21},{"w":1575.96,"f":1.2},{"w":1576.04,"f":1.23},{"w":1576.09,"f":1.2},{"w":1576.11,"f":0.81},{"w":1576.13,"f":1.2},{"w":1576.2,"f":1.25},{"w":1576.28,"f":1.23},{"w":1576.36,"f":1.24},{"w":1576.44,"f":1.22},{"w":1576.48,"f":1.0},{"w":1576.5,"f":1.1},{"w":1576.52,"f":0.65},{"w":1576.55,"f":1.15},{"w":1576.6,"f":1.19},{"w":1576.7,"f":1.17},{"w":1576.76,"f":1.08},{"w":1576.8,"f":0.93},{"w":1576.86,"f":0.8},{"w":1576.91,"f":0.52},{"w":1576.93,"f":0.25},{"w":1576.96,"f":0.73},{"w":1577.02,"f":0.98},{"w":1577.1,"f":1.09},{"w":1577.18,"f":1.1},{"w":1577.22,"f":0.98},{"w":1577.28,"f":0.65},{"w":1577.31,"f":0.88},{"w":1577.34,"f":0.48},{"w":1577.38,"f":0.86},{"w":1577.41,"f":0.86},{"w":1577.46,"f":1.1},{"w":1577.55,"f":1.19},{"w":1577.65,"f":1.24},{"w":1577.72,"f":1.2},{"w":1577.75,"f":0.46},{"w":1577.78,"f":1.2},{"w":1577.85,"f":1.24},{"w":1577.95,"f":1.25},{"w":1578.05,"f":1.23},{"w":1578.15,"f":1.25},{"w":1578.19,"f":1.22},{"w":1578.21,"f":0.49},{"w":1578.23,"f":1.22},{"w":1578.3,"f":1.26},{"w":1578.4,"f":1.25},{"w":1578.5,"f":1.27},{"w":1578.6,"f":1.25},{"w":1578.64,"f":1.22},{"w":1578.66,"f":0.5},{"w":1578.68,"f":1.22},{"w":1578.75,"f":1.26},{"w":1578.85,"f":1.25},{"w":1578.95,"f":1.27},{"w":1579.05,"f":1.25},{"w":1579.09,"f":1.2},{"w":1579.11,"f":0.53},{"w":1579.13,"f":1.2},{"w":1579.18,"f":1.23},{"w":1579.22,"f":1.05},{"w":1579.24,"f":0.89},{"w":1579.26,"f":1.05},{"w":1579.3,"f":1.22},{"w":1579.38,"f":1.3},{"w":1579.45,"f":1.28},{"w":1579.53,"f":1.29},{"w":1579.55,"f":1.2},{"w":1579.57,"f":0.56},{"w":1579.59,"f":1.2},{"w":1579.65,"f":1.28},{"w":1579.75,"f":1.27},{"w":1579.85,"f":1.28},{"w":1579.95,"f":1.25},{"w":1580,"f":1.21}
],
"z2t":[
{"w":1575,"f":1.18},{"w":1575.03,"f":1.14},{"w":1575.08,"f":1.12},{"w":1575.13,"f":0.95},{"w":1575.16,"f":0.85},{"w":1575.2,"f":0.65},{"w":1575.23,"f":0.52},{"w":1575.26,"f":0.79},{"w":1575.3,"f":1.02},{"w":1575.4,"f":1.1},{"w":1575.48,"f":1.16},{"w":1575.55,"f":1.23},{"w":1575.6,"f":1.21},{"w":1575.66,"f":1.22},{"w":1575.72,"f":1.21},{"w":1575.8,"f":1.23},{"w":1575.88,"f":1.22},{"w":1575.96,"f":1.21},{"w":1576.04,"f":1.24},{"w":1576.11,"f":1.22},{"w":1576.2,"f":1.26},{"w":1576.28,"f":1.24},{"w":1576.36,"f":1.25},{"w":1576.44,"f":1.22},{"w":1576.47,"f":1.02},{"w":1576.5,"f":1.15},{"w":1576.55,"f":1.18},{"w":1576.6,"f":1.2},{"w":1576.7,"f":1.17},{"w":1576.76,"f":1.08},{"w":1576.8,"f":0.94},{"w":1576.86,"f":0.8},{"w":1576.91,"f":0.52},{"w":1576.94,"f":0.6},{"w":1576.96,"f":0.73},{"w":1577.02,"f":0.98},{"w":1577.1,"f":1.09},{"w":1577.18,"f":1.1},{"w":1577.22,"f":0.98},{"w":1577.28,"f":0.65},{"w":1577.34,"f":1.14},{"w":1577.38,"f":0.95},{"w":1577.41,"f":0.86},{"w":1577.46,"f":1.1},{"w":1577.55,"f":1.2},{"w":1577.65,"f":1.24},{"w":1577.72,"f":1.2},{"w":1577.75,"f":0.9},{"w":1577.78,"f":1.2},{"w":1577.85,"f":1.25},{"w":1577.95,"f":1.26},{"w":1578.05,"f":1.24},{"w":1578.15,"f":1.26},{"w":1578.21,"f":1.25},{"w":1578.3,"f":1.27},{"w":1578.4,"f":1.26},{"w":1578.5,"f":1.28},{"w":1578.6,"f":1.26},{"w":1578.66,"f":1.25},{"w":1578.75,"f":1.27},{"w":1578.85,"f":1.26},{"w":1578.95,"f":1.27},{"w":1579.05,"f":1.25},{"w":1579.11,"f":1.27},{"w":1579.18,"f":1.23},{"w":1579.22,"f":1.05},{"w":1579.24,"f":0.89},{"w":1579.26,"f":1.05},{"w":1579.3,"f":1.22},{"w":1579.38,"f":1.28},{"w":1579.45,"f":1.3},{"w":1579.53,"f":1.28},{"w":1579.57,"f":1.27},{"w":1579.65,"f":1.29},{"w":1579.75,"f":1.27},{"w":1579.85,"f":1.28},{"w":1579.95,"f":1.26},{"w":1580,"f":1.25}
],
"z3e":[
{"w":1666.0,"f":1.288},{"w":1666.028,"f":1.351},{"w":1666.06,"f":1.345},{"w":1666.1,"f":1.359},{"w":1666.13,"f":1.34},{"w":1666.15,"f":1.324},{"w":1666.165,"f":1.27},{"w":1666.181,"f":1.109},{"w":1666.195,"f":0.825},{"w":1666.209,"f":1.055},{"w":1666.222,"f":1.216},{"w":1666.238,"f":1.292},{"w":1666.262,"f":1.288},{"w":1666.283,"f":1.252},{"w":1666.295,"f":1.225},{"w":1666.313,"f":1.252},{"w":1666.329,"f":1.18},{"w":1666.354,"f":1.234},{"w":1666.374,"f":1.324},{"w":1666.415,"f":1.333},{"w":1666.439,"f":1.27},{"w":1666.455,"f":1.037},{"w":1666.47,"f":0.983},{"w":1666.484,"f":0.897},{"w":1666.496,"f":0.983},{"w":1666.512,"f":1.127},{"w":1666.537,"f":1.279},{"w":1666.577,"f":1.351},{"w":1666.61,"f":1.345},{"w":1666.648,"f":1.359},{"w":1666.68,"f":1.355},{"w":1666.709,"f":1.369},{"w":1666.734,"f":1.378},{"w":1666.75,"f":1.306},{"w":1666.77,"f":1.199},{"w":1666.787,"f":1.163},{"w":1666.803,"f":1.01},{"w":1666.817,"f":1.163},{"w":1666.831,"f":1.297},{"w":1666.846,"f":1.382},{"w":1666.862,"f":1.324},{"w":1666.882,"f":1.27},{"w":1666.896,"f":1.18},{"w":1666.913,"f":1.069},{"w":1666.929,"f":1.18},{"w":1666.949,"f":1.297},{"w":1666.974,"f":1.342},{"w":1667.0,"f":1.35},{"w":1667.035,"f":1.351},{"w":1667.065,"f":1.315},{"w":1667.085,"f":1.234},{"w":1667.1,"f":1.252},{"w":1667.116,"f":1.261},{"w":1667.136,"f":1.216},{"w":1667.152,"f":1.19},{"w":1667.167,"f":1.252},{"w":1667.187,"f":1.342},{"w":1667.22,"f":1.335},{"w":1667.258,"f":1.342},{"w":1667.29,"f":1.33},{"w":1667.319,"f":1.315},{"w":1667.36,"f":1.297},{"w":1667.39,"f":1.305},{"w":1667.421,"f":1.306},{"w":1667.45,"f":1.34},{"w":1667.472,"f":1.359},{"w":1667.5,"f":1.335},{"w":1667.522,"f":1.342},{"w":1667.55,"f":1.33},{"w":1667.583,"f":1.324},{"w":1667.614,"f":1.306},{"w":1667.644,"f":1.333},{"w":1667.685,"f":1.324},{"w":1667.715,"f":1.288},{"w":1667.74,"f":1.231},{"w":1667.776,"f":1.297},{"w":1667.8,"f":1.33},{"w":1667.827,"f":1.342},{"w":1667.86,"f":1.335},{"w":1667.888,"f":1.333},{"w":1667.929,"f":1.315},{"w":1667.97,"f":1.342},{"w":1668.0,"f":1.351}
],
"z3t":[
{"w":1666.0,"f":1.315},{"w":1666.028,"f":1.35},{"w":1666.06,"f":1.36},{"w":1666.1,"f":1.351},{"w":1666.15,"f":1.351},{"w":1666.18,"f":1.37},{"w":1666.195,"f":1.387},{"w":1666.209,"f":1.418},{"w":1666.222,"f":1.38},{"w":1666.238,"f":1.359},{"w":1666.262,"f":1.33},{"w":1666.283,"f":1.315},{"w":1666.313,"f":1.252},{"w":1666.329,"f":1.18},{"w":1666.354,"f":1.234},{"w":1666.38,"f":1.333},{"w":1666.415,"f":1.351},{"w":1666.439,"f":1.342},{"w":1666.46,"f":1.3},{"w":1666.475,"f":1.22},{"w":1666.49,"f":1.16},{"w":1666.504,"f":1.109},{"w":1666.518,"f":1.18},{"w":1666.537,"f":1.279},{"w":1666.577,"f":1.351},{"w":1666.61,"f":1.345},{"w":1666.648,"f":1.359},{"w":1666.68,"f":1.355},{"w":1666.709,"f":1.369},{"w":1666.734,"f":1.378},{"w":1666.76,"f":1.37},{"w":1666.803,"f":1.36},{"w":1666.831,"f":1.342},{"w":1666.846,"f":1.382},{"w":1666.862,"f":1.306},{"w":1666.882,"f":1.261},{"w":1666.896,"f":1.18},{"w":1666.913,"f":1.069},{"w":1666.929,"f":1.18},{"w":1666.949,"f":1.297},{"w":1666.974,"f":1.342},{"w":1667.0,"f":1.35},{"w":1667.035,"f":1.342},{"w":1667.085,"f":1.335},{"w":1667.136,"f":1.351},{"w":1667.187,"f":1.342},{"w":1667.22,"f":1.345},{"w":1667.258,"f":1.351},{"w":1667.29,"f":1.345},{"w":1667.319,"f":1.351},{"w":1667.36,"f":1.342},{"w":1667.39,"f":1.35},{"w":1667.421,"f":1.369},{"w":1667.45,"f":1.36},{"w":1667.472,"f":1.378},{"w":1667.5,"f":1.345},{"w":1667.522,"f":1.35},{"w":1667.55,"f":1.335},{"w":1667.583,"f":1.324},{"w":1667.614,"f":1.306},{"w":1667.644,"f":1.333},{"w":1667.685,"f":1.324},{"w":1667.715,"f":1.288},{"w":1667.74,"f":1.24},{"w":1667.776,"f":1.3},{"w":1667.8,"f":1.335},{"w":1667.827,"f":1.345},{"w":1667.86,"f":1.34},{"w":1667.888,"f":1.342},{"w":1667.929,"f":1.325},{"w":1667.97,"f":1.345},{"w":1668.0,"f":1.355}
]
},
"vconcat":[
{
"width":1116,"height":285,
"data":{"name":"snr"},
"mark":{"type":"circle","size":26,"opacity":0.5},
"encoding":{
"x":{"field":"d","type":"temporal","scale":{"type":"utc","domain":[{"year":2024,"month":2,"date":2,"hours":17,"utc":true},{"year":2025,"month":2,"date":18,"hours":21,"utc":true}]},"axis":{"title":"Date","format":"%Y-%m","values":[{"year":2024,"month":3,"date":1,"utc":true},{"year":2024,"month":5,"date":1,"utc":true},{"year":2024,"month":7,"date":1,"utc":true},{"year":2024,"month":9,"date":1,"utc":true},{"year":2024,"month":11,"date":1,"utc":true},{"year":2025,"month":1,"date":1,"utc":true}]}},
"y":{"field":"v","type":"quantitative","scale":{"domain":[114.6,366.8],"nice":false,"zero":false},"axis":{"title":"EXT SNR","values":[150,200,250,300,350]}},
"color":{"field":"o","type":"nominal","scale":{"domain":["SNR[Order 15 (#134 1.08μm)]","SNR[Order 60 (#89 1.63μm)]"],"range":["#1f77b4","#ff7f0e"]},
"legend":{"title":null,"orient":"top-left","direction":"horizontal","offset":8,"symbolType":"circle","symbolSize":24,"symbolOpacity":0.5,"labelFontSize":13.9,"labelOffset":19,"symbolOffset":4,"columnPadding":30,"padding":7,"fillColor":"rgba(255,255,255,0.8)","strokeColor":"#d0d0d0","cornerRadius":3}}
}
},
{
"width":1116,"height":285,
"title":"BERV coverage = 24.408 km/s",
"layer":[
{"data":{"name":"berv"},"mark":{"type":"line","color":"#808080","strokeWidth":2.8,"strokeDash":[3,7.5],"interpolate":"monotone","clip":true},
"encoding":{
"x":{"field":"d","type":"temporal","scale":{"type":"utc","domain":[{"year":2024,"month":2,"date":2,"hours":17,"utc":true},{"year":2025,"month":2,"date":18,"hours":21,"utc":true}]},"axis":{"title":"Date","format":"%Y-%m","values":[{"year":2024,"month":3,"date":1,"utc":true},{"year":2024,"month":5,"date":1,"utc":true},{"year":2024,"month":7,"date":1,"utc":true},{"year":2024,"month":9,"date":1,"utc":true},{"year":2024,"month":11,"date":1,"utc":true},{"year":2025,"month":1,"date":1,"utc":true}]}},
"y":{"field":"v","type":"quantitative","scale":{"domain":[12.73,70.69],"nice":false,"zero":false},"axis":{"title":"vₜₒₜ [km/s] = vₛᵧₛ − BERV","values":[20,30,40,50,60,70]}}
}},
{"data":{"values":[{}]},"mark":{"type":"rule","color":"#1f77b4","strokeWidth":2},"encoding":{"y":{"datum":41.929,"type":"quantitative"}}},
{"data":{"name":"qc"},"mark":{"type":"circle","size":75,"opacity":0.5},
"encoding":{
"x":{"field":"d","type":"temporal"},
"y":{"field":"v","type":"quantitative"},
"color":{"field":"q","type":"nominal","scale":{"domain":["a","b","c","d"],"range":["#008000","#0000ff","#ff0000","#1f77b4"]},
"legend":{"title":null,"orient":"top-right","offset":3,"labelFontSize":11.1,"symbolSize":196,"labelOffset":13,"symbolOffset":2,"rowPadding":-1.5,"padding":6,"fillColor":"rgba(255,255,255,0.8)","strokeColor":"#d0d0d0","cornerRadius":3,
"labelExpr":"datum.value=='a'?'Passed all QC (PP to TCORR)':datum.value=='b'?'Failed QC (EXT)':datum.value=='c'?'Failed QC (TCORR)':'vₛᵧₛ = 41.929 [km/s]'",
"encoding":{"symbols":{
"shape":{"value":{"expr":"datum.value=='a'?'circle':datum.value=='d'?'M-1,0L1,0':'M-1,-1L1,1M-1,1L1,-1'"}},
"size":{"value":{"expr":"datum.value=='a'?75:datum.value=='d'?484:196"}},
"fill":{"value":{"expr":"datum.value=='a'?'#008000':'transparent'"}},
"fillOpacity":{"value":0.5},
"stroke":{"value":{"expr":"datum.value=='a'?'transparent':datum.value=='b'?'#0000ff':datum.value=='c'?'#ff0000':'#1f77b4'"}},
"strokeWidth":{"value":{"expr":"datum.value=='d'?2:1.2"}},
"opacity":{"value":1}}}}
}}}
]
},
{
"width":1116,"height":285,
"title":"Spectrum closest to Median SNR[Order 60 (#89 1.63μm)]\u00a0\u00a0\u00a0\u00a0\u00a0SNR:263.05\u00a0\u00a0\u00a0\u00a0\u00a0File: NIRPS_2024-02-16T01_01_57_458.fits",
"layer":[
{"data":{"name":"ext"},"mark":{"type":"line","strokeWidth":1.1,"clip":true},
"encoding":{
"x":{"field":"w","type":"quantitative","scale":{"domain":[985.2,1809.6],"nice":false,"zero":false},"axis":{"title":"Wavelength [nm]","values":[1000,1100,1200,1300,1400,1500,1600,1700,1800],"format":"d"}},
"y":{"field":"f","type":"quantitative","scale":{"domain":[0,2.113],"nice":false,"zero":false},"axis":{"title":"Flux","values":[0,0.25,0.5,0.75,1,1.25,1.5,1.75,2],"format":".2f"}},
"color":{"datum":"Extracted Spectrum","type":"nominal","scale":{"domain":["Extracted Spectrum","Telluric Corrected"],"range":["#000000","#ff0000"]},
"legend":{"title":null,"orient":"top-right","direction":"horizontal","offset":7,"symbolType":"M-2,0L2,0","symbolSize":196,"symbolStrokeWidth":1,"labelFontSize":13.9,"labelOffset":18,"symbolOffset":7.5,"columnPadding":23,"padding":6,"fillColor":"rgba(255,255,255,0.8)","strokeColor":"#d0d0d0","cornerRadius":3}}
}},
{"data":{"name":"t1"},"mark":{"type":"line","strokeWidth":1.1,"clip":true},
"encoding":{"x":{"field":"w","type":"quantitative"},"y":{"field":"f","type":"quantitative"},"color":{"datum":"Telluric Corrected","type":"nominal"}}},
{"data":{"name":"t2"},"mark":{"type":"line","strokeWidth":1.1,"clip":true},
"encoding":{"x":{"field":"w","type":"quantitative"},"y":{"field":"f","type":"quantitative"},"color":{"datum":"Telluric Corrected","type":"nominal"}}}
]
},
{
"bounds":"flush",
"spacing":66,
"hconcat":[
{"width":328,"height":285,"title":"Zoom 1",
"layer":[
{"data":{"name":"z1e"},"mark":{"type":"line","color":"#000000","strokeWidth":0.8,"opacity":0.85,"clip":true},
"encoding":{"x":{"field":"w","type":"quantitative","scale":{"domain":[1082,1085],"nice":false,"zero":false},"axis":{"title":"Wavelength [nm]","values":[1082,1082.5,1083,1083.5,1084,1084.5,1085],"format":".1f"}},
"y":{"field":"f","type":"quantitative","scale":{"domain":[0.314,1.624],"nice":false,"zero":false},"axis":{"title":"Flux","values":[0.4,0.6,0.8,1.0,1.2,1.4,1.6],"format":".1f"}}}},
{"data":{"name":"z1t"},"mark":{"type":"line","color":"#ff0000","strokeWidth":0.8,"clip":true},
"encoding":{"x":{"field":"w","type":"quantitative","scale":{"domain":[1082,1085],"nice":false,"zero":false}},"y":{"field":"f","type":"quantitative","scale":{"domain":[0.314,1.624],"nice":false,"zero":false}}}}
]},
{"width":328,"height":285,"title":"Zoom 2",
"layer":[
{"data":{"name":"z2e"},"mark":{"type":"line","color":"#000000","strokeWidth":0.8,"opacity":0.85,"clip":true},
"encoding":{"x":{"field":"w","type":"quantitative","scale":{"domain":[1575,1580],"nice":false,"zero":false},"axis":{"title":"Wavelength [nm]","values":[1575,1576,1577,1578,1579,1580],"format":"d"}},
"y":{"field":"f","type":"quantitative","scale":{"domain":[0.286,1.935],"nice":false,"zero":false},"axis":{"title":null,"values":[0.4,0.6,0.8,1.0,1.2,1.4,1.6,1.8],"format":".1f"}}}},
{"data":{"name":"z2t"},"mark":{"type":"line","color":"#ff0000","strokeWidth":0.8,"clip":true},
"encoding":{"x":{"field":"w","type":"quantitative","scale":{"domain":[1575,1580],"nice":false,"zero":false}},"y":{"field":"f","type":"quantitative","scale":{"domain":[0.286,1.935],"nice":false,"zero":false}}}}
]},
{"width":328,"height":285,"title":"Zoom 3",
"layer":[
{"data":{"name":"z3e"},"mark":{"type":"line","color":"#000000","strokeWidth":0.8,"opacity":0.85,"clip":true},
"encoding":{"x":{"field":"w","type":"quantitative","scale":{"domain":[1666,1668],"nice":false,"zero":false},"axis":{"title":"Wavelength [nm]","values":[1666,1666.5,1667,1667.5,1668],"format":".1f"}},
"y":{"field":"f","type":"quantitative","scale":{"domain":[0.551,2.088],"nice":false,"zero":false},"axis":{"title":null,"values":[0.6,0.8,1.0,1.2,1.4,1.6,1.8,2.0],"format":".1f"}}}},
{"data":{"name":"z3t"},"mark":{"type":"line","color":"#ff0000","strokeWidth":0.8,"clip":true},
"encoding":{"x":{"field":"w","type":"quantitative","scale":{"domain":[1666,1668],"nice":false,"zero":false}},"y":{"field":"f","type":"quantitative","scale":{"domain":[0.551,2.088],"nice":false,"zero":false}}}}
]}
]
}
]
}
